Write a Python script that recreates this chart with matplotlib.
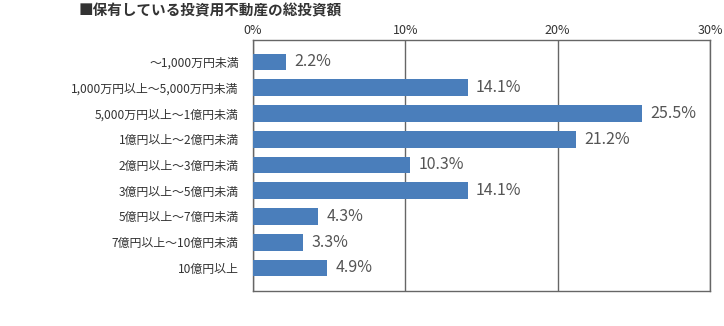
import numpy as np
import matplotlib
matplotlib.use('Agg')
import matplotlib.pyplot as plt

plt.rcParams['font.family'] = ['Noto Sans CJK JP', 'DejaVu Sans']

title = '■保有している投資用不動産の総投資額'
categories = ['〜1,000万円未満', '1,000万円以上〜5,000万円未満', '5,000万円以上〜1億円未満',
              '1億円以上〜2億円未満', '2億円以上〜3億円未満', '3億円以上〜5億円未満',
              '5億円以上〜7億円未満', '7億円以上〜10億円未満', '10億円以上']
values = [2.2, 14.1, 25.5, 21.2, 10.3, 14.1, 4.3, 3.3, 4.9]
xticks = [0, 10, 20, 30]

bar_color = '#4a7ebb'
line_color = '#666666'

fig = plt.figure(figsize=(7.24, 3.26), dpi=100)
ax = fig.add_axes([0.349, 0.107, 0.632, 0.770])

y = np.arange(len(categories))
ax.barh(y, values, height=0.65, color=bar_color, zorder=3)
for yi, v in zip(y, values):
    ax.text(v + 0.55, yi, f'{v:.1f}%', va='center', ha='left',
            fontsize=11.5, color='#555555', zorder=4)

ax.set_xlim(0, 30)
ax.set_ylim(8.9, -0.85)
ax.set_yticks(y)
ax.set_yticklabels(categories, fontsize=8.6, color='#333333')
ax.set_xticks(xticks)
ax.set_xticklabels([f'{t}%' for t in xticks], fontsize=9, color='#333333')
ax.xaxis.tick_top()
ax.tick_params(axis='x', length=0, pad=2)
ax.tick_params(axis='y', length=0, pad=10)
ax.grid(axis='x', color=line_color, linewidth=1, zorder=1)
for s in ax.spines.values():
    s.set_color(line_color)
    s.set_linewidth(1)

fig.text(0.108, 0.968, title, fontsize=10.5, fontweight='bold', color='#333333',
         ha='left', va='center')

fig.savefig('out.png', dpi=100)
